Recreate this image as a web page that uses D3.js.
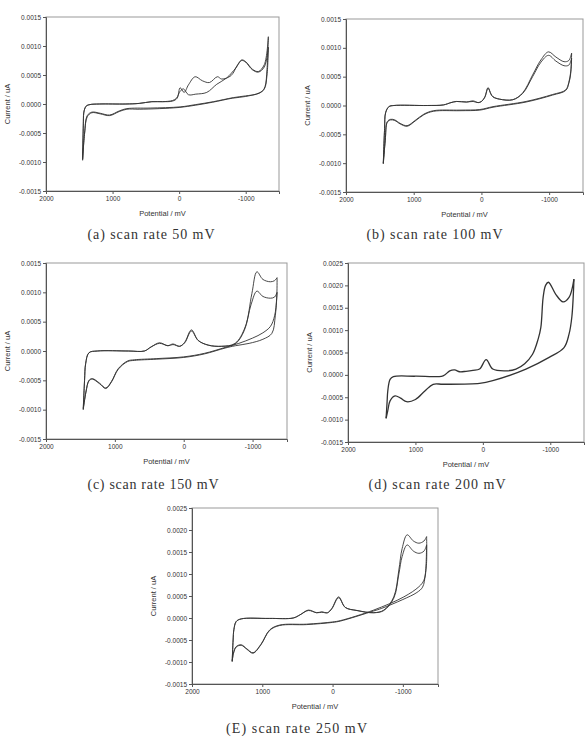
<!DOCTYPE html>
<html>
<head>
<meta charset="utf-8">
<script src="https://cdn.jsdelivr.net/npm/d3@7"></script>
<style>
  body { margin: 0; background: #fff; }
</style>
</head>
<body>
<div id="chart"></div>
<script>
// potentials (mV) and currents
const xTicks = [2000, 1000, 0, -1000];
const yTicksLow = [-0.0015, -0.001, -0.0005, 0, 0.0005, 0.001, 0.0015];
const yTicksHigh = [-0.0015, -0.001, -0.0005, 0, 0.0005, 0.001, 0.0015, 0.002, 0.0025];

// (a) 50 mV
const aFwd1 = [[1450,-0.00095],[1440,-0.0004],[1432,-0.00015],[1400,-0.00004],[1340,-0.00001],[1200,0],[800,0],[600,0.00001],[410,0.00004],[250,0.00004],[100,0.00005],[30,0.0001],[-15,0.00028],[-75,0.0002],[-140,0.00033],[-240,0.00047],[-350,0.0004],[-455,0.00037],[-575,0.00047],[-640,0.00043],[-780,0.00049],[-880,0.00068],[-940,0.00076],[-1000,0.00073],[-1100,0.0006],[-1190,0.00056],[-1280,0.00068],[-1340,0.00116]];
const aFwd2 = [[1450,-0.00097],[1438,-0.0003],[1428,-0.00012],[1390,-0.00003],[1340,-0.00001],[1200,0],[800,0],[600,0.00001],[410,0.00004],[250,0.00004],[100,0.00006],[40,0.0001],[-15,0.00022],[-65,0.00026],[-140,0.00016],[-250,0.00017],[-415,0.0002],[-565,0.00034],[-715,0.00045],[-850,0.00062],[-940,0.00075],[-1000,0.00072],[-1100,0.00059],[-1190,0.00055],[-1280,0.00064],[-1340,0.00098]];
const aRev1 = [[-1340,0.00116],[-1320,0.0006],[-1290,0.0003],[-1240,0.00021],[-1165,0.00017],[-1000,0.00014],[-815,0.00011],[-515,0.00004],[-250,-0.00001],[-15,-0.00005],[435,-0.00007],[785,-0.00008],[900,-0.00012],[1045,-0.00019],[1185,-0.00016],[1310,-0.00014],[1380,-0.0002],[1420,-0.0005],[1450,-0.00095]];
const aRev2 = [[-1340,0.00098],[-1320,0.0005],[-1280,0.00026],[-1200,0.00019],[-1000,0.00013],[-800,0.0001],[-500,0.00003],[-250,-0.00002],[0,-0.00006],[300,-0.00008],[600,-0.00009],[785,-0.00009],[900,-0.00013],[1045,-0.0002],[1185,-0.00017],[1310,-0.00015],[1380,-0.00022],[1420,-0.0005],[1450,-0.00097]];

// (b) 100 mV
const bFwd1 = [[1449,-0.00101],[1430,-0.0004],[1415,-0.00013],[1366,-0.00002],[1293,0],[800,0],[561,0.00001],[450,0.00005],[366,0.00007],[220,0.00006],[122,0.00008],[49,0.00005],[0,0.00007],[-50,0.00015],[-98,0.00031],[-140,0.0002],[-171,0.00015],[-268,0.00011],[-463,0.0001],[-610,0.00022],[-756,0.00053],[-878,0.00079],[-990,0.00093],[-1100,0.00084],[-1220,0.00076],[-1290,0.00078],[-1332,0.00091]];
const bFwd2 = [[1449,-0.001],[1430,-0.0004],[1415,-0.00012],[1366,-0.00002],[1293,0],[800,0],[561,0.00001],[450,0.00005],[366,0.00007],[220,0.00006],[122,0.00007],[49,0.00005],[0,0.00007],[-50,0.00014],[-98,0.0003],[-140,0.0002],[-171,0.00015],[-268,0.00011],[-463,0.0001],[-610,0.00021],[-756,0.0005],[-878,0.00075],[-990,0.00087],[-1100,0.00077],[-1220,0.00069],[-1290,0.0007],[-1332,0.00082]];
const bRev1 = [[-1332,0.00091],[-1320,0.0006],[-1290,0.0004],[-1244,0.00027],[-1049,0.00019],[-659,0.00007],[-171,-0.00002],[24,-0.00007],[317,-0.00008],[707,-0.00009],[850,-0.00015],[980,-0.00026],[1098,-0.00035],[1200,-0.00031],[1280,-0.00025],[1341,-0.00024],[1390,-0.00028],[1420,-0.0006],[1449,-0.00101]];
const bRev2 = [[-1332,0.00082],[-1318,0.00055],[-1290,0.00038],[-1244,0.00026],[-1049,0.00018],[-659,0.00006],[-171,-0.00003],[24,-0.00008],[317,-0.00009],[707,-0.0001],[850,-0.00016],[980,-0.00027],[1098,-0.00036],[1200,-0.00032],[1280,-0.00026],[1341,-0.00025],[1390,-0.00029],[1420,-0.0006],[1449,-0.001]];

// (c) 150 mV
const cFwd1 = [[1459,-0.001],[1440,-0.0005],[1424,-0.00022],[1376,-0.00003],[1254,0],[800,0],[571,0],[473,0.00007],[351,0.00014],[229,0.00009],[156,0.00012],[59,0.00008],[-15,0.00015],[-112,0.00036],[-210,0.00018],[-356,0.0001],[-551,0.00008],[-746,0.00013],[-893,0.00041],[-990,0.00098],[-1063,0.00135],[-1150,0.00122],[-1259,0.00118],[-1320,0.0012],[-1356,0.00125]];
const cFwd2 = [[1459,-0.00098],[1440,-0.0005],[1424,-0.00021],[1376,-0.00003],[1254,0],[800,0],[571,0],[473,0.00007],[351,0.00013],[229,0.00009],[156,0.00011],[59,0.00008],[-15,0.00014],[-112,0.00034],[-210,0.00018],[-356,0.0001],[-551,0.00008],[-746,0.00012],[-880,0.00035],[-980,0.0008],[-1063,0.00102],[-1150,0.00093],[-1259,0.0009],[-1320,0.00092],[-1356,0.001]];
const cRev1 = [[-1356,0.00125],[-1350,0.0009],[-1320,0.0006],[-1260,0.00042],[-1150,0.00031],[-1000,0.00022],[-800,0.00013],[-600,0.00006],[-300,-0.00004],[0,-0.0001],[400,-0.00013],[717,-0.00015],[815,-0.00017],[950,-0.0003],[1050,-0.00052],[1132,-0.00063],[1220,-0.00055],[1327,-0.00047],[1376,-0.0005],[1420,-0.0007],[1459,-0.001]];
const cRev2 = [[-1356,0.001],[-1330,0.0006],[-1280,0.0003],[-1150,0.0002],[-950,0.00013],[-750,0.00009],[-600,0.00005],[-300,-0.00005],[0,-0.00011],[400,-0.00014],[717,-0.00016],[815,-0.00018],[950,-0.00031],[1050,-0.00053],[1132,-0.00064],[1220,-0.00056],[1327,-0.00048],[1376,-0.00051],[1420,-0.0007],[1459,-0.00098]];

// (d) 200 mV
const dFwd = [[1435,-0.00097],[1420,-0.0006],[1410,-0.00036],[1376,-0.0001],[1327,-0.00004],[1000,-0.00003],[590,-0.00002],[491,0.00009],[418,0.00011],[344,0.00007],[250,0.00008],[147,0.0001],[49,0.00013],[-49,0.00034],[-147,0.00013],[-344,0.00009],[-491,0.00013],[-620,0.00025],[-737,0.00046],[-820,0.0008],[-860,0.00106],[-894,0.00173],[-930,0.002],[-973,0.00207],[-1081,0.0018],[-1189,0.00163],[-1278,0.00173],[-1351,0.00214]];
const dRev = [[-1351,0.00214],[-1320,0.0013],[-1278,0.00091],[-1204,0.00061],[-983,0.00039],[-639,0.00013],[-147,-0.00013],[49,-0.00019],[590,-0.00021],[737,-0.00021],[860,-0.00036],[1000,-0.00055],[1130,-0.0006],[1220,-0.00052],[1302,-0.00047],[1376,-0.00058],[1410,-0.0008],[1435,-0.00097]];

// (E) 250 mV
const eFwd1 = [[1428,-0.00099],[1415,-0.0005],[1404,-0.00027],[1371,-0.00008],[1299,-0.00002],[900,-0.00001],[560,0],[465,0.00007],[345,0.00018],[226,0.00012],[154,0.00014],[72,0.00012],[10,0.00022],[-86,0.00048],[-181,0.00024],[-348,0.00017],[-586,0.00012],[-729,0.00018],[-871,0.00048],[-943,0.00109],[-990,0.00158],[-1061,0.00189],[-1150,0.00175],[-1228,0.0017],[-1300,0.00175],[-1338,0.00185]];
const eFwd2 = [[1428,-0.00098],[1415,-0.0005],[1404,-0.00026],[1371,-0.00008],[1299,-0.00002],[900,-0.00001],[560,0],[465,0.00007],[345,0.00017],[226,0.00012],[154,0.00013],[72,0.00012],[10,0.00021],[-86,0.00046],[-181,0.00024],[-348,0.00017],[-586,0.00012],[-729,0.00017],[-871,0.00045],[-943,0.001],[-990,0.0014],[-1061,0.00166],[-1150,0.00152],[-1228,0.00147],[-1300,0.00152],[-1338,0.00166]];
const eRev1 = [[-1338,0.00185],[-1335,0.0012],[-1300,0.00086],[-1228,0.00071],[-1014,0.00048],[-585,0.00018],[-110,-0.00006],[0,-0.00009],[369,-0.00014],[751,-0.00016],[894,-0.00027],[1020,-0.0006],[1132,-0.00079],[1220,-0.0007],[1299,-0.00061],[1371,-0.00065],[1410,-0.0008],[1428,-0.00099]];
const eRev2 = [[-1338,0.00166],[-1320,0.001],[-1280,0.0007],[-1200,0.00058],[-1000,0.00042],[-700,0.00022],[-585,0.00016],[-110,-0.00007],[0,-0.0001],[369,-0.00015],[751,-0.00017],[894,-0.00028],[1020,-0.00061],[1132,-0.0008],[1220,-0.00071],[1299,-0.00062],[1371,-0.00066],[1410,-0.0008],[1428,-0.00098]];

const panels = [
  {box: [46, 17, 279, 191], yDom: [-0.0015, 0.0015], yTicks: yTicksLow, traces: [aFwd1, aFwd2, aRev1, aRev2], lw: 0.9, caption: "(a) scan rate 50 mV", cx: 151, cy: 238.5, cw: 127},
  {box: [346, 19, 583, 192], yDom: [-0.0015, 0.0015], yTicks: yTicksLow, traces: [bFwd1, bFwd2, bRev1, bRev2], lw: 0.9, caption: "(b) scan rate 100 mV", cx: 434.5, cy: 238.5, cw: 136},
  {box: [46, 263, 287, 439], yDom: [-0.0015, 0.0015], yTicks: yTicksLow, traces: [cFwd1, cFwd2, cRev1, cRev2], lw: 0.9, caption: "(c) scan rate 150 mV", cx: 153, cy: 488.5, cw: 131},
  {box: [348, 263, 584, 442], yDom: [-0.0015, 0.0025], yTicks: yTicksHigh, traces: [dFwd, dRev], lw: 1.3, caption: "(d) scan rate 200 mV", cx: 437, cy: 488.5, cw: 137},
  {box: [192, 508, 438, 684], yDom: [-0.0015, 0.0025], yTicks: yTicksHigh, traces: [eFwd1, eFwd2, eRev1, eRev2], lw: 0.9, caption: "(E) scan rate 250 mV", cx: 296.5, cy: 733.3, cw: 141}
];

const sans = "'Liberation Sans', Arial, sans-serif";
const hyphen = f => d => f(d).replace("\u2212", "-");

const svg = d3.select("#chart").append("svg")
  .attr("width", 588)
  .attr("height", 744);

svg.append("rect").attr("width", 588).attr("height", 744).attr("fill", "#fff");

panels.forEach(drawPanel);

function drawPanel(p) {
  const [x0, y0, x1, y1] = p.box;
  const x = d3.scaleLinear().domain([2000, -1500]).range([x0, x1]);
  const y = d3.scaleLinear().domain(p.yDom).range([y1, y0]);
  const g = svg.append("g");

  // frame
  g.append("rect")
    .attr("x", x0).attr("y", y0)
    .attr("width", x1 - x0).attr("height", y1 - y0)
    .attr("fill", "none").attr("stroke", "#999").attr("stroke-width", 1);

  const yAxis = g.append("g")
    .attr("transform", `translate(${x0},0)`)
    .call(d3.axisLeft(y).tickValues(p.yTicks).tickFormat(hyphen(d3.format(".4f"))).tickSize(3).tickPadding(2));
  const xAxis = g.append("g")
    .attr("transform", `translate(0,${y1})`)
    .call(d3.axisBottom(x).tickValues(xTicks).tickFormat(hyphen(d3.format("d"))).tickSize(3).tickPadding(2));

  [xAxis, yAxis].forEach(ax => {
    ax.attr("font-family", sans).attr("font-size", 6.5);
    ax.select(".domain").attr("stroke", "#555");
    ax.selectAll(".tick line").attr("stroke", "#555");
    ax.selectAll("text").attr("fill", "#333");
  });

  const line = d3.line()
    .x(d => x(d[0]))
    .y(d => y(d[1]))
    .curve(d3.curveCatmullRom.alpha(0.5));

  g.append("g").selectAll("path")
    .data(p.traces)
    .join("path")
      .attr("d", line)
      .attr("fill", "none")
      .attr("stroke", "#333")
      .attr("stroke-width", p.lw);

  g.append("text")
    .attr("x", (x0 + x1) / 2)
    .attr("y", y1 + 25)
    .attr("text-anchor", "middle")
    .attr("font-family", sans)
    .attr("font-size", 7.5)
    .attr("fill", "#333")
    .text("Potential / mV");

  g.append("text")
    .attr("transform", `translate(${x0 - 36},${(y0 + y1) / 2}) rotate(-90)`)
    .attr("text-anchor", "middle")
    .attr("font-family", sans)
    .attr("font-size", 7.5)
    .attr("fill", "#333")
    .text("Current / uA");

  g.append("text")
    .attr("x", p.cx - p.cw / 2)
    .attr("y", p.cy)
    .attr("textLength", p.cw)
    .attr("lengthAdjust", "spacing")
    .attr("font-size", 14)
    .attr("font-family", "'Liberation Serif', 'DejaVu Serif', serif")
    .attr("fill", "#333")
    .text(p.caption);
}
</script>
</body>
</html>
